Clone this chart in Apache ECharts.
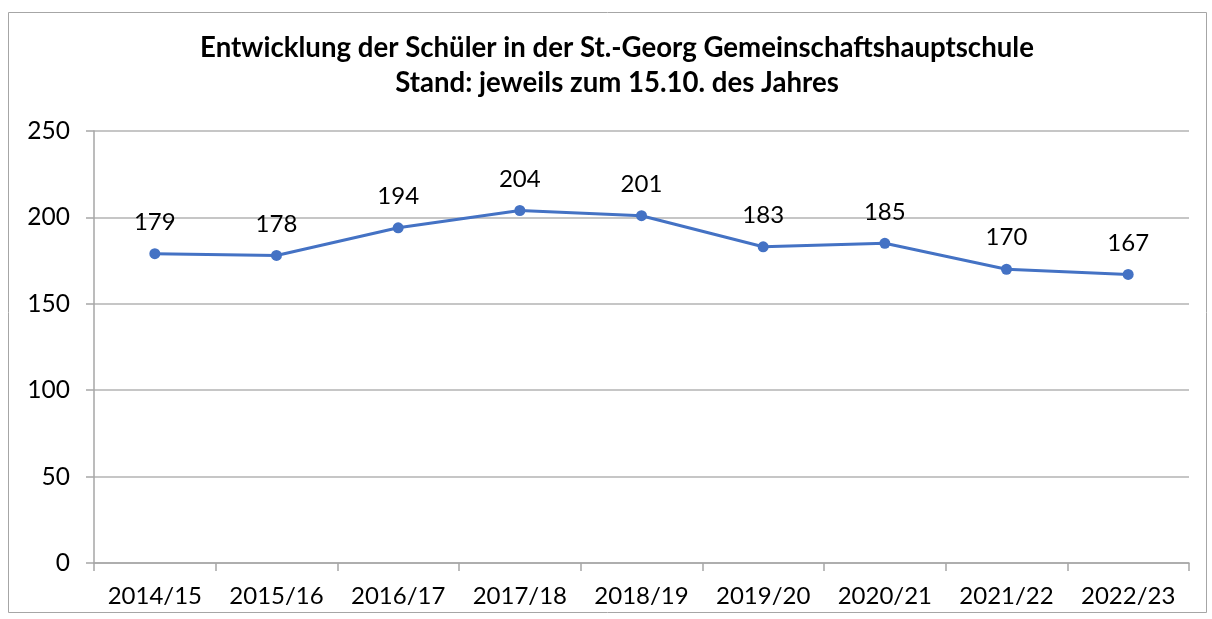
<!DOCTYPE html>
<html>
<head>
<meta charset="utf-8">
<script src="https://cdn.jsdelivr.net/npm/echarts@6/dist/echarts.min.js"></script>
<style>
  html, body { margin: 0; padding: 0; background: #fff; }
  #main { width: 1212px; height: 619px; }
</style>
</head>
<body>
<div id="main"></div>
<script>
// Schuljahre und Schülerzahlen
var schuljahre = ['2014/15', '2015/16', '2016/17', '2017/18', '2018/19', '2019/20', '2020/21', '2021/22', '2022/23'];
var schueler = [179, 178, 194, 204, 201, 183, 185, 170, 167];
var titelZeilen = ['Entwicklung der Schüler in der St.-Georg Gemeinschaftshauptschule', 'Stand: jeweils zum 15.10. des Jahres'];

var myChart = echarts.init(document.getElementById('main'));

var option = {
  animation: false,
  textStyle: { fontFamily: 'Lato' },
  title: {
    text: titelZeilen.join('\n'),
    left: 612,
    top: 26,
    textAlign: 'center',
    textStyle: {
      fontFamily: 'Lato',
      fontWeight: 'bold',
      fontSize: 27.6,
      lineHeight: 35,
      color: '#000'
    }
  },
  graphic: [{
    type: 'rect',
    shape: { x: 8.5, y: 12.5, width: 1198, height: 600 },
    style: { fill: 'none', stroke: '#a6a6a6', lineWidth: 1 },
    silent: true
  }],
  grid: { left: 94, right: 23, top: 131, bottom: 56 },
  xAxis: {
    type: 'category',
    data: schuljahre,
    boundaryGap: true,
    axisLine: { lineStyle: { color: '#a6a6a6', width: 1.5 } },
    axisTick: { show: true, length: 8, interval: 0, alignWithLabel: false, lineStyle: { color: '#a6a6a6', width: 1.5 } },
    axisLabel: { color: '#000', fontSize: 24, margin: 21, interval: 0, hideOverlap: false, fontFamily: 'Lato' }
  },
  yAxis: {
    type: 'value',
    min: 0,
    max: 250,
    interval: 50,
    axisLine: { show: true, lineStyle: { color: '#a6a6a6', width: 1.5 } },
    axisTick: { show: true, length: 8, lineStyle: { color: '#a6a6a6', width: 1.5 } },
    splitLine: { lineStyle: { color: '#b3b3b3', width: 1.5 } },
    axisLabel: { color: '#000', fontSize: 24.5, margin: 24, fontFamily: 'Lato' }
  },
  series: [{
    name: 'Schüler',
    type: 'line',
    data: schueler,
    symbol: 'circle',
    symbolSize: 11,
    lineStyle: { color: '#4472C4', width: 3 },
    itemStyle: { color: '#4472C4' },
    label: {
      show: true,
      position: 'top',
      distance: 14,
      color: '#000',
      fontSize: 24,
      fontFamily: 'Lato'
    }
  }]
};

myChart.setOption(option);
</script>
</body>
</html>
